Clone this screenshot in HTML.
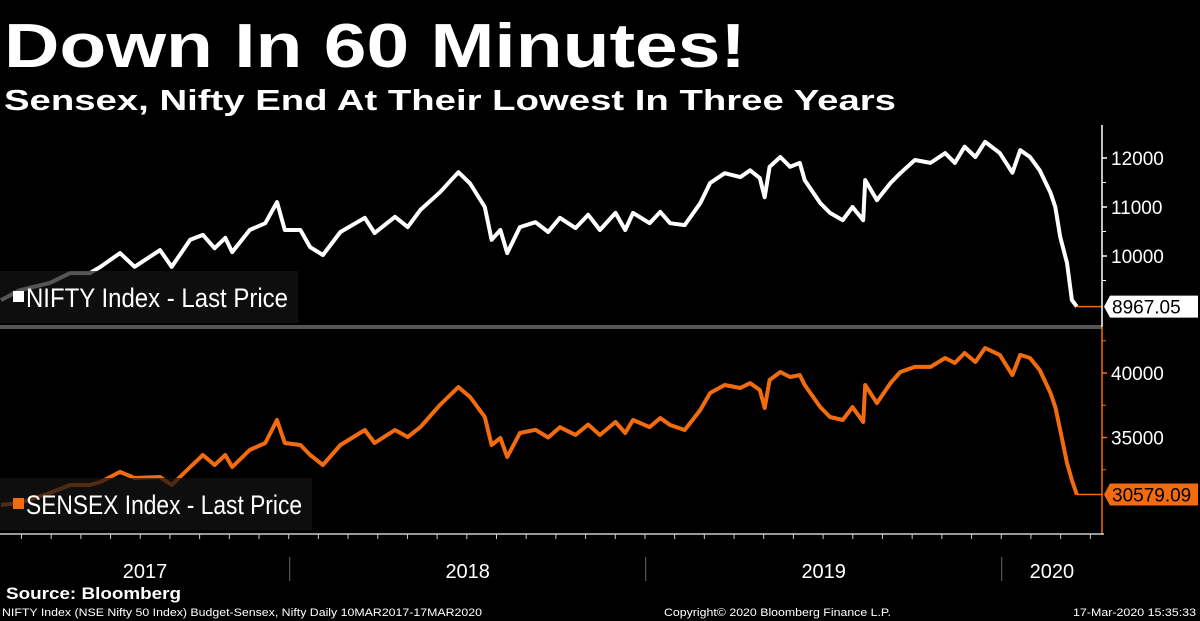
<!DOCTYPE html>
<html><head><meta charset="utf-8"><style>
html,body{margin:0;padding:0;background:#000;width:1200px;height:621px;overflow:hidden}
svg{display:block}
text{font-family:"Liberation Sans",sans-serif}
</style></head><body>
<svg id="c" width="1200" height="621" viewBox="0 0 1200 621">
<rect width="1200" height="621" fill="#000"/>
<text x="4" y="67" fill="#fff" font-size="62" font-weight="bold" textLength="742" lengthAdjust="spacingAndGlyphs">Down In 60 Minutes!</text>
<text x="4" y="110" fill="#fff" font-size="29" font-weight="bold" textLength="892" lengthAdjust="spacingAndGlyphs">Sensex, Nifty End At Their Lowest In Three Years</text>
<g id="top"></g>
<g id="bot"></g>
<rect x="0" y="325" width="1102" height="4" fill="#555"/>
<line x1="1102" y1="125" x2="1102" y2="327" stroke="#fff" stroke-width="1.5"/>
<line x1="1102" y1="327" x2="1102" y2="535" stroke="#f26c0f" stroke-width="1.5"/>
<line x1="0" y1="534" x2="1104" y2="534" stroke="#ccc" stroke-width="1.5"/>
<g id="xt"></g>
<text x="6" y="599" fill="#fff" font-size="17" font-weight="bold" textLength="175" lengthAdjust="spacingAndGlyphs">Source: Bloomberg</text>
<text x="2" y="616" fill="#fff" font-size="11" textLength="480" lengthAdjust="spacingAndGlyphs">NIFTY Index (NSE Nifty 50 Index) Budget-Sensex, Nifty  Daily 10MAR2017-17MAR2020</text>
<text x="664" y="616" fill="#fff" font-size="11" textLength="227" lengthAdjust="spacingAndGlyphs">Copyright© 2020 Bloomberg Finance L.P.</text>
<text x="1073" y="616" fill="#fff" font-size="11" textLength="123" lengthAdjust="spacingAndGlyphs">17-Mar-2020 15:35:33</text>
</svg>
<script>
const days=[0,19,50,71,91,102,122,137,163,175,194,207,219,230,237,255,271,283,291,307,317,330,348,373,383,404,417,430,450,469,481,496,503,512,519,532,548,561,573,589,602,614,630,640,648,665,676,686,701,717,727,742,758,768,778,783,788,799,809,819,824,840,850,863,873,884,886,898,912,922,937,953,968,978,988,999,1009,1024,1037,1045,1055,1065,1076,1081,1086,1093,1098,1103];
const nifty=[9100,9300,9450,9650,9650,9780,10060,9780,10120,9780,10330,10430,10160,10370,10080,10530,10670,11100,10530,10530,10180,10020,10490,10780,10470,10800,10590,10940,11300,11710,11480,11000,10330,10530,10060,10590,10690,10490,10780,10570,10840,10530,10880,10530,10880,10670,10900,10670,10630,11080,11490,11690,11610,11750,11590,11200,11820,12020,11820,11900,11550,11080,10880,10730,11000,10730,11550,11140,11490,11690,11960,11900,12100,11900,12230,12020,12330,12100,11700,12160,12020,11750,11290,11000,10390,9860,9100,8967.05];
const sensex=[29770,29920,30700,31320,31320,31550,32330,31860,31940,31320,32710,33640,32870,33640,32710,34030,34570,36360,34570,34420,33640,32870,34420,35580,34570,35580,35040,35810,37520,38910,38140,36590,34420,34960,33490,35350,35600,35000,35800,35200,36000,35190,36200,35350,36360,35810,36510,35970,35580,37130,38450,39070,38840,39220,38680,37290,39460,40080,39690,39840,39070,37360,36590,36360,37360,36200,39070,37670,39220,40080,40470,40470,41160,40780,41550,40850,41940,41400,39840,41400,41160,40230,38450,37360,35580,33020,31700,30579.09];
const niftyTicks=[10000,11000,12000];
const sensexTicks=[35000,40000];
const yearLabels=["2017","2018","2019","2020"];
const yearStartDays=[-296,296,661,1026];
const NS="http://www.w3.org/2000/svg";
function mk(t,a,p){const e=document.createElementNS(NS,t);for(const k in a)e.setAttribute(k,a[k]);p.appendChild(e);return e;}
const X=d=>1+d*356/365;
const Yn=v=>158+(12000-v)*0.049;
const Ys=v=>373+(40000-v)*0.0129;
function panel(g,vals,Y,col,ticks,minor,last,label,ly,lw,tw,boxCol,txtCol,axisCol){
  let d="";vals.forEach((v,i)=>{d+=(i?"L":"M")+X(days[i]).toFixed(1)+","+Y(v).toFixed(1);});
  const p=mk("path",{d:d,fill:"none",stroke:col,"stroke-width":4,"stroke-linejoin":"round"},g);
  
  
  const yl=Y(last);
  const fl=mk("line",{x1:X(days[days.length-1]),y1:yl,x2:1102,y2:yl,stroke:"#f26c0f","stroke-width":1.5},g);
  
  
  ticks.forEach(t=>{
    const y=Y(t);
    const tl=mk("line",{x1:1102,y1:y,x2:1107,y2:y,stroke:axisCol,"stroke-width":1.5},g);
    
    
    const tx=mk("text",{x:1111,y:y+7,fill:"#fff","font-size":19},g);tx.textContent=t;
    
    
  });
  minor.forEach(t=>{
    const y=Y(t);
    const ml=mk("line",{x1:1102,y1:y,x2:1106,y2:y,stroke:axisCol,"stroke-width":1},g);
    
    
  });
  const lb=mk("rect",{x:0,y:ly,width:lw,height:52,fill:"rgba(20,20,20,0.72)"},g);
  
  
  const sq=mk("rect",{x:13,y:ly+20,width:11,height:11,fill:col},g);
  
  
  const lt=mk("text",{x:26,y:ly+36,fill:"#fff","font-size":27,textLength:tw,lengthAdjust:"spacingAndGlyphs"},g);lt.textContent=label;
  
  
  const bx=mk("path",{d:`M1104,${yl} L1110,${yl-11} L1198,${yl-11} L1198,${yl+11} L1110,${yl+11} Z`,fill:boxCol},g);
  
  
  const bt=mk("text",{x:1112,y:yl+7,fill:txtCol,"font-size":19},g);bt.textContent=last.toFixed(2);
  
  
}
panel(document.getElementById('top'),nifty,Yn,"#fff",niftyTicks,[9500,10500,11500],nifty[nifty.length-1],"NIFTY Index - Last Price",271,298,262,"#fff","#000","#fff");
panel(document.getElementById('bot'),sensex,Ys,"#f26c0f",sensexTicks,[32500,37500,42500],sensex[sensex.length-1],"SENSEX Index - Last Price",478,312,276,"#f26c0f","#000","#f26c0f");
const xt=document.getElementById('xt');
for(let m=0;m<37;m++){
  const x=X(21+m*30.44);if(x>1102)break;
  const t=mk("line",{x1:x,y1:534,x2:x,y2:539,stroke:"#ccc","stroke-width":1},xt);
  
  
}
yearLabels.forEach((y,i)=>{
  const s=Math.max(0,X(yearStartDays[i]));
  const e=i<3?X(yearStartDays[i+1]):1102;
  if(i>0){const sl=mk("line",{x1:s,y1:557,x2:s,y2:581,stroke:"#666","stroke-width":1},xt);
  
  }
  const tx=mk("text",{x:(i==0?145:(s+e)/2),y:578,fill:"#fff","font-size":20,"text-anchor":"middle"},xt);tx.textContent=y;
  
  
});
</script>
</body></html>
